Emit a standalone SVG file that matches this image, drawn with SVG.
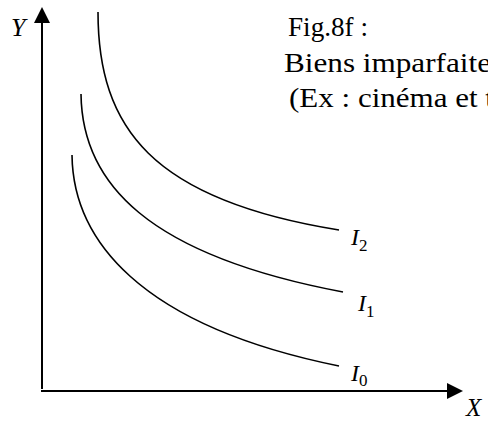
<svg xmlns="http://www.w3.org/2000/svg" width="488" height="421" viewBox="0 0 488 421">
<style>
.ax{stroke:#000;stroke-width:2;fill:none}
.cv{stroke:#000;stroke-width:1.6;fill:none}
.t{font-family:"Liberation Serif","Times New Roman",serif;fill:#000}
.m{font-family:"Liberation Serif","Times New Roman",serif;font-style:italic;fill:#000}
.sub{font-style:normal;font-size:17px}
</style>
<defs>
<marker id="ah" markerUnits="userSpaceOnUse" markerWidth="16" markerHeight="16" viewBox="0 0 16 16" refX="0" refY="8" orient="auto">
<path d="M0,0 L16,8 L0,16 Z" fill="#000"/>
</marker>
</defs>
<g id="connectors">
<line class="ax" x1="42" y1="389" x2="42" y2="23" marker-end="url(#ah)"/>
<line class="ax" x1="41" y1="391" x2="447" y2="391" marker-end="url(#ah)"/>
</g>
<g id="curve-I2">
<path class="cv" d="M98,12 C98,128 152,200 339,230"/>
<text class="m" x="351" y="245" font-size="24">I<tspan class="sub" dy="6">2</tspan></text>
</g>
<g id="curve-I1">
<path class="cv" d="M81,94 C82,183 147,255 343,292"/>
<text class="m" x="358" y="311" font-size="24">I<tspan class="sub" dy="6">1</tspan></text>
</g>
<g id="curve-I0">
<path class="cv" d="M72,155 C73,238 137,325 339,366"/>
<text class="m" x="351" y="381" font-size="24">I<tspan class="sub" dy="5">0</tspan></text>
</g>
<g id="label-Y"><text class="m" x="11" y="36" font-size="26">Y</text></g>
<g id="label-X"><text class="m" x="466" y="416" font-size="25">X</text></g>
<g id="caption">
<text class="t" x="288" y="36" font-size="27" textLength="80" lengthAdjust="spacingAndGlyphs">Fig.8f :</text>
<text class="t" x="284" y="72" font-size="27" textLength="207" lengthAdjust="spacingAndGlyphs">Biens imparfaite</text>
<text class="t" x="289" y="107" font-size="27" textLength="205" lengthAdjust="spacingAndGlyphs">(Ex : cinéma et t</text>
</g>
</svg>
